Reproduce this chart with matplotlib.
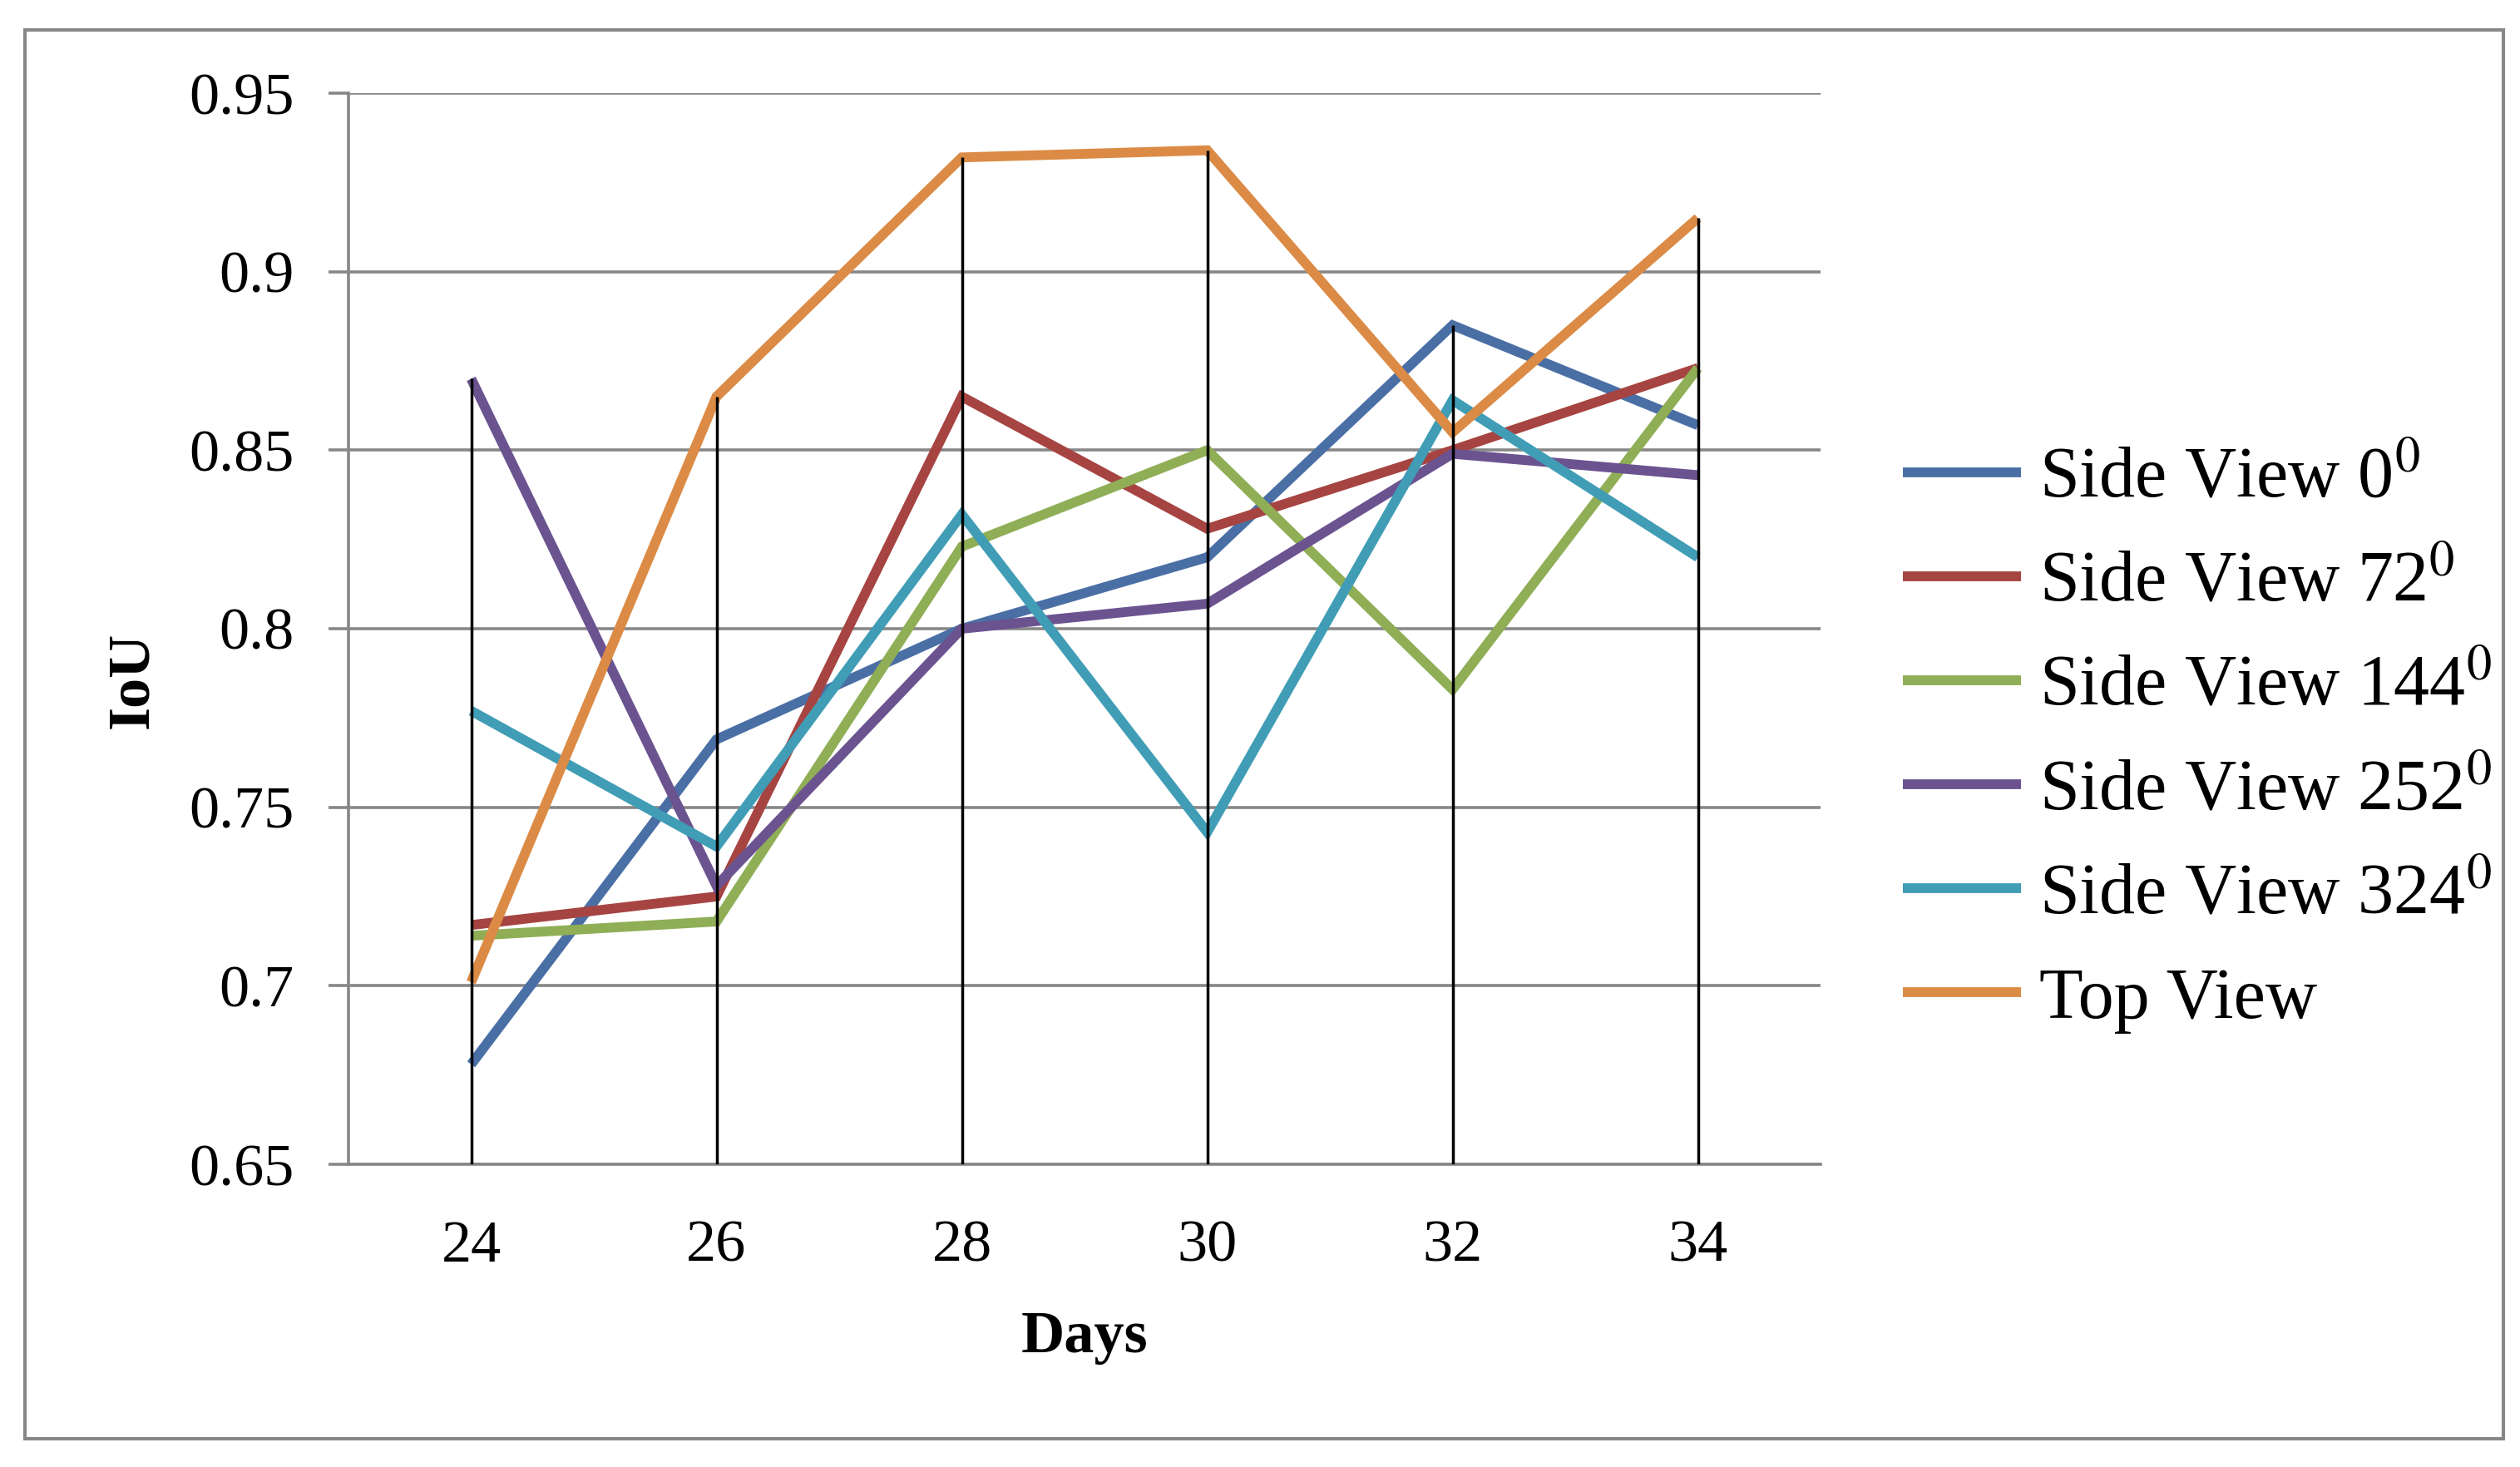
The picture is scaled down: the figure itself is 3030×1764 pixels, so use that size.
"""IoU per growth day for the side and top camera views."""

import matplotlib.pyplot as plt
import numpy as np
from matplotlib.patches import Rectangle
from matplotlib.ticker import FixedLocator

days = [24, 26, 28, 30, 32, 34]
series_names = [
    "Side View 0$^\\mathrm{0}$",
    "Side View 72$^\\mathrm{0}$",
    "Side View 144$^\\mathrm{0}$",
    "Side View 252$^\\mathrm{0}$",
    "Side View 324$^\\mathrm{0}$",
    "Top View",
]
side_0 = [0.678, 0.769, 0.800, 0.820, 0.885, 0.857]
side_72 = [0.717, 0.725, 0.865, 0.828, 0.850, 0.873]
side_144 = [0.714, 0.718, 0.823, 0.850, 0.783, 0.873]
side_252 = [0.870, 0.728, 0.800, 0.807, 0.849, 0.843]
side_324 = [0.777, 0.739, 0.832, 0.743, 0.864, 0.820]
top_view = [0.701, 0.865, 0.932, 0.934, 0.855, 0.915]
y_ticks = [0.65, 0.7, 0.75, 0.8, 0.85, 0.9, 0.95]
y_tick_labels = ["0.65", "0.7", "0.75", "0.8", "0.85", "0.9", "0.95"]

colors = ["#4A6FA5", "#A64442", "#8FAE56", "#6B5390", "#409DB5", "#DB8B45"]
GRID = "#878787"

plt.rcParams["font.family"] = ["Liberation Serif", "DejaVu Serif"]
plt.rcParams["mathtext.fontset"] = "stix"

W, H = 3030, 1764
fig = plt.figure(figsize=(W / 100, H / 100), dpi=100)
fig.patch.set_facecolor("white")

# outer chart border
fig.patches.append(
    Rectangle((30 / W, 1 - 1730 / H), (3010 - 30) / W, (1730 - 36) / H,
              transform=fig.transFigure, fill=False, edgecolor=GRID, linewidth=3)
)

ax = fig.add_axes([419 / W, 1 - 1400 / H, (2189 - 419) / W, (1400 - 112) / H])

all_series = [side_0, side_72, side_144, side_252, side_324, top_view]
x = np.arange(len(days))
for name, vals, c in zip(series_names, all_series, colors):
    ax.plot(x, vals, color=c, linewidth=8.5, label=name, zorder=2,
            solid_joinstyle="miter", solid_capstyle="butt")

# drop lines from the highest point down to the axis
tops = np.max(np.array(all_series), axis=0)
ax.vlines(x, y_ticks[0], tops, color="black", linewidth=2.5, zorder=3)

ax.set_xlim(-0.5, len(days) - 0.5)
ax.set_ylim(y_ticks[0], y_ticks[-1])
ax.set_xticks(x)
ax.set_xticklabels([str(d) for d in days])
ax.yaxis.set_major_locator(FixedLocator(y_ticks))
ax.set_yticklabels(y_tick_labels)

ax.grid(axis="y", color=GRID, linewidth=2.6, zorder=0)
ax.set_axisbelow(True)
for side in ["top", "right"]:
    ax.spines[side].set_visible(False)
for side in ["left", "bottom"]:
    ax.spines[side].set_color(GRID)
    ax.spines[side].set_linewidth(2.6)

ax.tick_params(axis="y", direction="out", length=17, width=2.6, color=GRID,
               labelsize=52, pad=30)
ax.tick_params(axis="x", length=0, labelsize=52, pad=48)

ax.set_xlabel("Days", fontsize=52, fontweight="bold", labelpad=32)
fig.text(160 / W, 1 - 818 / H, "IoU", rotation=90, fontsize=52,
         fontweight="bold", ha="center", va="center")

fig.legend(loc="center left", bbox_to_anchor=(2288 / W, 1 - 890 / H),
           frameon=False, fontsize=62, handlelength=1.65, handletextpad=0.25,
           labelspacing=0.53, borderpad=0, borderaxespad=0)

fig.savefig("out.png", dpi=100, facecolor="white")
